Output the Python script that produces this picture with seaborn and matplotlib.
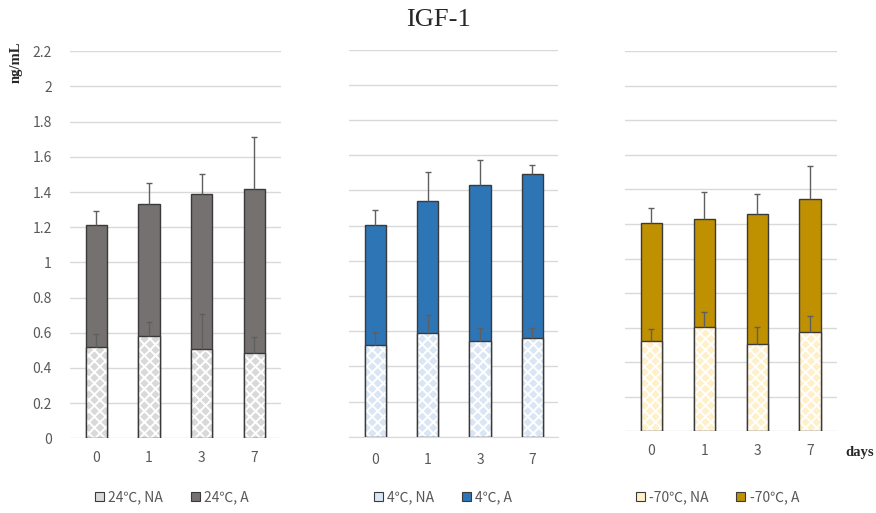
import matplotlib
matplotlib.use("Agg")
import matplotlib.pyplot as plt
import seaborn as sns
from matplotlib.patches import Patch

DAYS = ["0", "1", "3", "7"]

# 24 ℃ storage
A_24 = [1.21, 1.33, 1.39, 1.42]
A_24_ERR = [0.08, 0.12, 0.11, 0.29]
NA_24 = [0.52, 0.58, 0.505, 0.487]
NA_24_ERR = [0.075, 0.08, 0.20, 0.087]

# 4 ℃ storage
A_4 = [1.205, 1.337, 1.43, 1.491]
A_4_ERR = [0.083, 0.165, 0.144, 0.051]
NA_4 = [0.521, 0.587, 0.544, 0.559]
NA_4_ERR = [0.072, 0.104, 0.075, 0.057]

# -70 ℃ storage
A_70 = [1.208, 1.231, 1.258, 1.343]
A_70_ERR = [0.085, 0.153, 0.114, 0.193]
NA_70 = [0.523, 0.602, 0.507, 0.575]
NA_70_ERR = [0.071, 0.089, 0.099, 0.094]

LABELS_NA = ["24℃, NA", "4℃, NA", "-70℃, NA"]
LABELS_A = ["24℃, A", "4℃, A", "-70℃, A"]
Y_TICKS = [0, 0.2, 0.4, 0.6, 0.8, 1, 1.2, 1.4, 1.6, 1.8, 2, 2.2]

sns.set_style("white")
plt.rcParams["font.family"] = ["Noto Sans CJK KR", "DejaVu Sans"]
plt.rcParams["hatch.linewidth"] = 1.4

GRID = "#d9d9d9"
TEXT = "#595959"
EDGE = "#3a3a3a"
ERRC = "#5f5f5f"

fig = plt.figure(figsize=(8.76, 5.13), dpi=100)

panels = [
    dict(A=A_24, Ae=A_24_ERR, N=NA_24, Ne=NA_24_ERR, fill="#767171", pat="#d9d9d9",
         rect=[0.0799, 0.1456, 0.2405, 0.7544], legx=0.196),
    dict(A=A_4, Ae=A_4_ERR, N=NA_4, Ne=NA_4_ERR, fill="#2e75b6", pat="#dae6f5",
         rect=[0.3988, 0.1487, 0.2386, 0.7548], legx=0.506),
    dict(A=A_70, Ae=A_70_ERR, N=NA_70, Ne=NA_70_ERR, fill="#bf9000", pat="#fff0c8",
         rect=[0.7135, 0.1593, 0.2417, 0.7407], legx=0.819),
]

for i, p in enumerate(panels):
    ax = fig.add_axes(p["rect"])
    w = 0.41
    # treated (A) bars
    sns.barplot(x=DAYS, y=p["A"], color=p["fill"], saturation=1, width=w,
                edgecolor=EDGE, linewidth=1, errorbar=None, ax=ax, zorder=2)
    # untreated (NA) bars: tinted fill cut into diamonds by a white hatch, then outline
    sns.barplot(x=DAYS, y=p["N"], color=p["pat"], saturation=1, width=w,
                hatch="xxx", edgecolor="white", linewidth=0, errorbar=None,
                ax=ax, zorder=3)
    sns.barplot(x=DAYS, y=p["N"], color=EDGE, fill=False, saturation=1, width=w,
                linewidth=1, errorbar=None, ax=ax, zorder=4)

    xs = list(range(len(DAYS)))
    for vals, errs in ((p["A"], p["Ae"]), (p["N"], p["Ne"])):
        _, caps, _ = ax.errorbar(xs, vals, yerr=[[0] * len(errs), errs], fmt="none",
                                 ecolor=ERRC, elinewidth=1, capsize=2.3, capthick=1,
                                 zorder=5)
        caps[0].set_visible(False)

    ax.set_ylim(0, 2.2)
    ax.set_xlim(-0.5, 3.5)
    ax.set_yticks(Y_TICKS)
    ax.yaxis.grid(True, color=GRID, linewidth=1)
    ax.set_axisbelow(True)
    for s in ax.spines.values():
        s.set_visible(False)
    ax.set_xlabel("")
    ax.set_ylabel("")
    ax.tick_params(axis="x", length=0, pad=9, labelsize=10, labelcolor=TEXT)
    if i == 0:
        ax.set_yticklabels([f"{t:g}" for t in Y_TICKS])
        ax.tick_params(axis="y", length=0, pad=13, labelsize=10, labelcolor=TEXT)
    else:
        ax.tick_params(axis="y", length=0, labelleft=False)
    if i == 1:
        ax.spines["bottom"].set_visible(True)
        ax.spines["bottom"].set_color(GRID)
        ax.set_xticks([-0.5, 0.5, 1.5, 2.5, 3.5], minor=True)
        ax.tick_params(axis="x", which="minor", length=4, color=GRID, width=1)
        ax.tick_params(axis="x", which="major", pad=12)

    handles = [Patch(facecolor=p["pat"], edgecolor=EDGE, linewidth=0.8),
               Patch(facecolor=p["fill"], edgecolor=EDGE, linewidth=0.8)]
    fig.legend(handles, [LABELS_NA[i], LABELS_A[i]], loc="center",
               bbox_to_anchor=(p["legx"], 0.031), ncol=2, frameon=False,
               handlelength=0.65, handleheight=0.65, handletextpad=0.3,
               columnspacing=2.0, fontsize=10, labelcolor=TEXT)

fig.text(0.5, 0.961, "IGF-1", ha="center", va="center",
         family="Liberation Serif", fontsize=19)
fig.text(0.019, 0.879, "ng/mL", ha="center", va="center", rotation=90,
         family="Liberation Serif", fontweight="bold", fontsize=10.5)
fig.text(0.981, 0.117, "days", ha="center", va="center",
         family="Liberation Serif", fontweight="bold", fontsize=10.5)

fig.savefig("out.png", dpi=100)
